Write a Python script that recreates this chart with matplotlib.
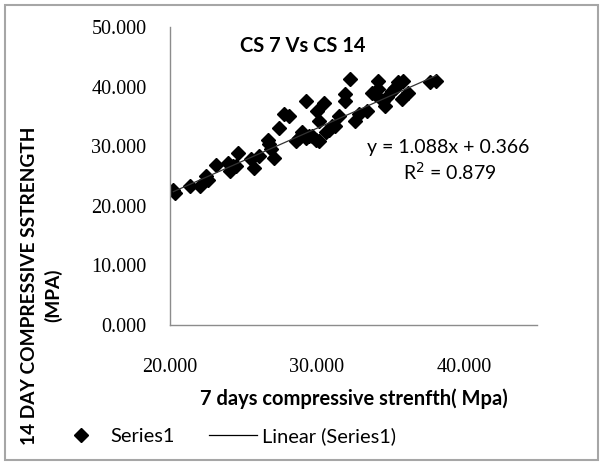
import numpy as np
import matplotlib
matplotlib.use('Agg')
import matplotlib.pyplot as plt
from matplotlib.lines import Line2D
from matplotlib.patches import Rectangle

# 7 day vs 14 day compressive strength (MPa)
cs7 = [20.22, 20.34, 21.35, 22.03, 22.48, 22.59, 23.15, 23.94, 24.05, 24.28,
       24.50, 24.60, 25.52, 25.74, 26.08, 26.64, 26.76, 26.87, 27.09, 27.43,
       27.77, 28.11, 28.56, 28.78, 29.00, 29.23, 29.46, 29.68, 29.91, 30.14,
       29.23, 30.02, 30.14, 30.47, 30.59, 30.81, 31.03, 31.26, 31.49, 31.94,
       31.94, 32.28, 32.61, 32.84, 33.40, 33.74, 33.97, 34.19, 34.19, 34.53,
       34.64, 34.75, 35.09, 35.32, 35.54, 35.88, 35.78, 36.22, 37.68, 38.12]
cs14 = [22.7, 22.2, 23.3, 23.3, 25.0, 24.4, 26.9, 27.2, 25.8, 26.7,
        26.7, 28.9, 27.8, 26.4, 28.3, 31.1, 30.3, 29.5, 28.1, 33.1,
        35.4, 35.1, 30.9, 31.4, 32.3, 31.4, 31.7, 31.7, 31.1, 30.9,
        37.6, 35.9, 34.2, 37.3, 32.3, 32.8, 33.4, 33.4, 35.1, 38.7,
        37.6, 41.2, 34.2, 35.4, 35.9, 39.0, 38.7, 41.0, 39.6, 37.6,
        36.8, 38.2, 39.3, 39.8, 40.7, 41.0, 37.9, 39.0, 40.7, 41.0]

# trendline as reported on the chart
slope = 1.088
intercept = 0.366
r2 = 0.879

xticks = [20, 30, 40]
yticks = [0, 10, 20, 30, 40, 50]

sans = 'Lato'
serif = 'Liberation Serif'

fig = plt.figure(figsize=(6.03, 4.65), dpi=100)
ax = fig.add_axes([0.282, 0.301, 0.609, 0.641])

ax.plot(cs7, cs14, linestyle='none', marker='D', markersize=7,
        color='black', label='Series1')
xs = np.array([min(cs7), max(cs7)])
ax.plot(xs, slope * xs + intercept, color='#333333', linewidth=0.9,
        label='Linear (Series1)')

ax.set_xlim(20, 45)
ax.set_ylim(0, 50)
ax.set_xticks(xticks)
ax.set_yticks(yticks)
ax.set_xticklabels([f'{v:.3f}' for v in xticks], fontfamily=serif, fontsize=14.5)
ax.set_yticklabels([f'{v:.3f}' for v in yticks], fontfamily=serif, fontsize=14.5)
ax.tick_params(axis='both', length=0)
ax.tick_params(axis='y', pad=17)
ax.tick_params(axis='x', pad=24)

for s in ['top', 'right']:
    ax.spines[s].set_visible(False)
for s in ['left', 'bottom']:
    ax.spines[s].set_color('#8c8c8c')
    ax.spines[s].set_linewidth(1.0)

ax.set_xlabel('7 days compressive strenfth( Mpa)', fontfamily=sans,
              fontweight='bold', fontsize=14.5, labelpad=8)

fig.text(303 / 603, 1 - 46 / 465, 'CS 7 Vs CS 14', fontfamily=sans,
         fontweight='bold', fontsize=14.5, ha='center', va='center')

fig.text(448 / 603, 1 - 147 / 465, f'y = {slope}x + {intercept}',
         fontfamily=sans, fontsize=14, ha='center', va='center')
fig.text(450 / 603, 1 - 172 / 465, f'R$^2$ = {r2}',
         fontfamily=sans, fontsize=14, ha='center', va='center')

fig.text(30 / 603, 1 - 286 / 465, '14 DAY COMPRESSIVE SSTRENGTH',
         fontfamily=sans, fontweight='bold', fontsize=13.8, rotation=90,
         ha='center', va='center')
fig.text(53 / 603, 1 - 295 / 465, '(MPA)',
         fontfamily=sans, fontweight='bold', fontsize=13.8, rotation=90,
         ha='center', va='center')

handles = [Line2D([], [], linestyle='none', marker='D', markersize=7, color='black'),
           Line2D([], [], color='black', linewidth=0.9)]
leg = fig.legend(handles, ['Series1', 'Linear (Series1)'], ncol=2,
                 loc='center left', bbox_to_anchor=(57 / 603, 1 - 436 / 465),
                 frameon=False, prop={'family': sans, 'size': 14.4},
                 borderpad=0, borderaxespad=0,
                 handlelength=2.4, columnspacing=1.75, handletextpad=0.25)

fig.patches.append(Rectangle((5 / 603, 5 / 465), 593 / 603, 455 / 465,
                             transform=fig.transFigure, fill=False,
                             edgecolor='#a6a6a6', linewidth=1.5))

plt.savefig('out.png', dpi=100)
